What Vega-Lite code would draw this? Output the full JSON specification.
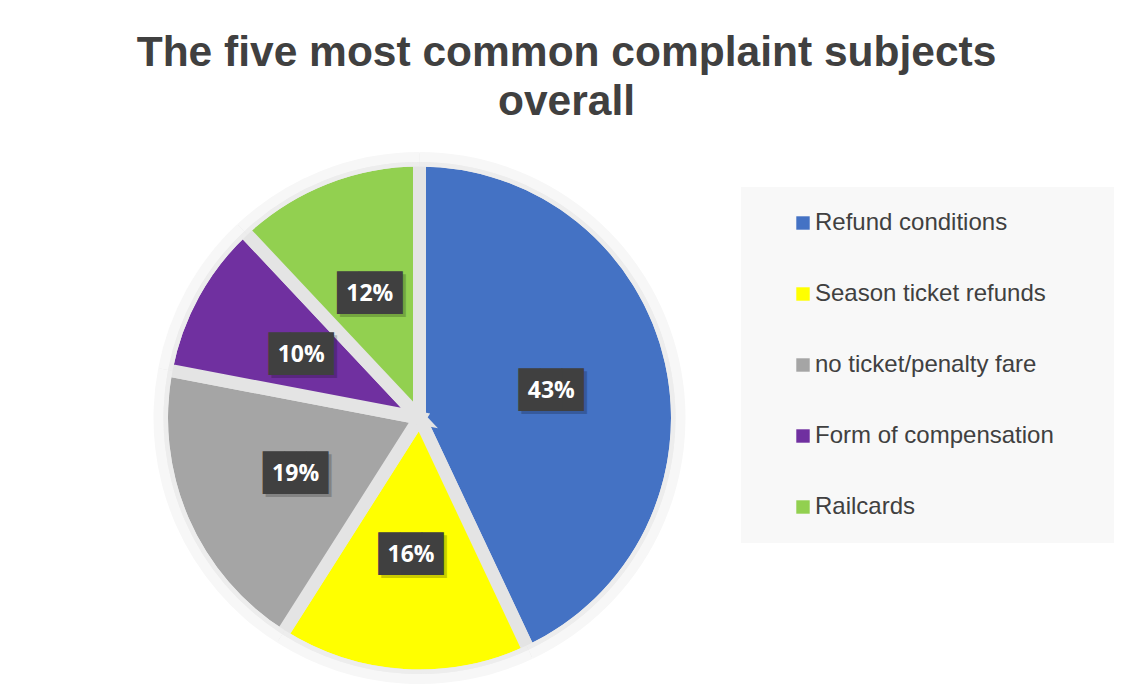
{
  "$schema": "https://vega.github.io/schema/vega-lite/v6.json",
  "width": 839,
  "height": 562,
  "autosize": "none",
  "padding": {"left": 0, "top": 137, "right": 283, "bottom": 0},
  "background": "white",
  "config": {"view": {"stroke": null}},
  "title": {
    "text": ["The five most common complaint subjects", "overall"],
    "font": "Liberation Sans",
    "fontSize": 42.5,
    "fontWeight": "bold",
    "color": "#404040",
    "lineHeight": 49,
    "anchor": "middle",
    "dx": 147,
    "offset": 11
  },
  "data": {
    "values": [
      {"subject": "Refund conditions", "share": 0.43, "rank": 1},
      {"subject": "Season ticket refunds", "share": 0.16, "rank": 2},
      {"subject": "no ticket/penalty fare", "share": 0.19, "rank": 3},
      {"subject": "Form of compensation", "share": 0.10, "rank": 4},
      {"subject": "Railcards", "share": 0.12, "rank": 5}
    ]
  },
  "encoding": {
    "theta": {"field": "share", "type": "quantitative", "stack": true},
    "order": {"field": "rank", "type": "quantitative", "sort": "ascending"}
  },
  "layer": [
    {
      "mark": {"type": "arc", "outerRadius": 258, "stroke": "#E4E4E4", "strokeWidth": 13},
      "encoding": {
        "color": {
          "field": "subject",
          "type": "nominal",
          "scale": {
            "domain": ["Refund conditions", "Season ticket refunds", "no ticket/penalty fare", "Form of compensation", "Railcards"],
            "range": ["#4472C4", "#FFFF00", "#A5A5A5", "#7030A0", "#92D050"]
          },
          "legend": {
            "orient": "none",
            "legendX": 741,
            "legendY": 50,
            "title": null,
            "symbolType": "square",
            "symbolSize": 180,
            "symbolStrokeWidth": 0,
            "labelFont": "Liberation Sans",
            "labelFontSize": 24,
            "labelColor": "#404040",
            "labelLimit": 600,
            "labelOffset": 0,
            "rowPadding": 47,
            "fillColor": "#F8F8F8",
            "padding": 24,
            "symbolOffset": 26,
            "labelExpr": "datum.label + '\u2800\u2800'"
          }
        }
      }
    },
    {
      "mark": {"type": "arc", "innerRadius": 251.5, "outerRadius": 256, "color": "#EDEDED", "strokeWidth": 0}
    },
    {
      "mark": {"type": "arc", "innerRadius": 256, "outerRadius": 266, "color": "#F7F7F7", "strokeWidth": 0}
    },
    {
      "mark": {"type": "text", "radius": 135, "text": "███", "font": "DejaVu Sans Mono", "fontSize": 36, "color": "#000000", "opacity": 0.2, "dx": 3, "dy": 5}
    },
    {
      "mark": {"type": "text", "radius": 135, "text": "███", "font": "DejaVu Sans Mono", "fontSize": 36, "color": "#404040", "dy": 2}
    },
    {
      "mark": {"type": "text", "radius": 135, "font": "Open Sans", "fontWeight": "bold", "fontSize": 23, "color": "#FFFFFF", "dy": 2},
      "encoding": {"text": {"field": "share", "type": "quantitative", "format": ".0%"}}
    }
  ]
}
